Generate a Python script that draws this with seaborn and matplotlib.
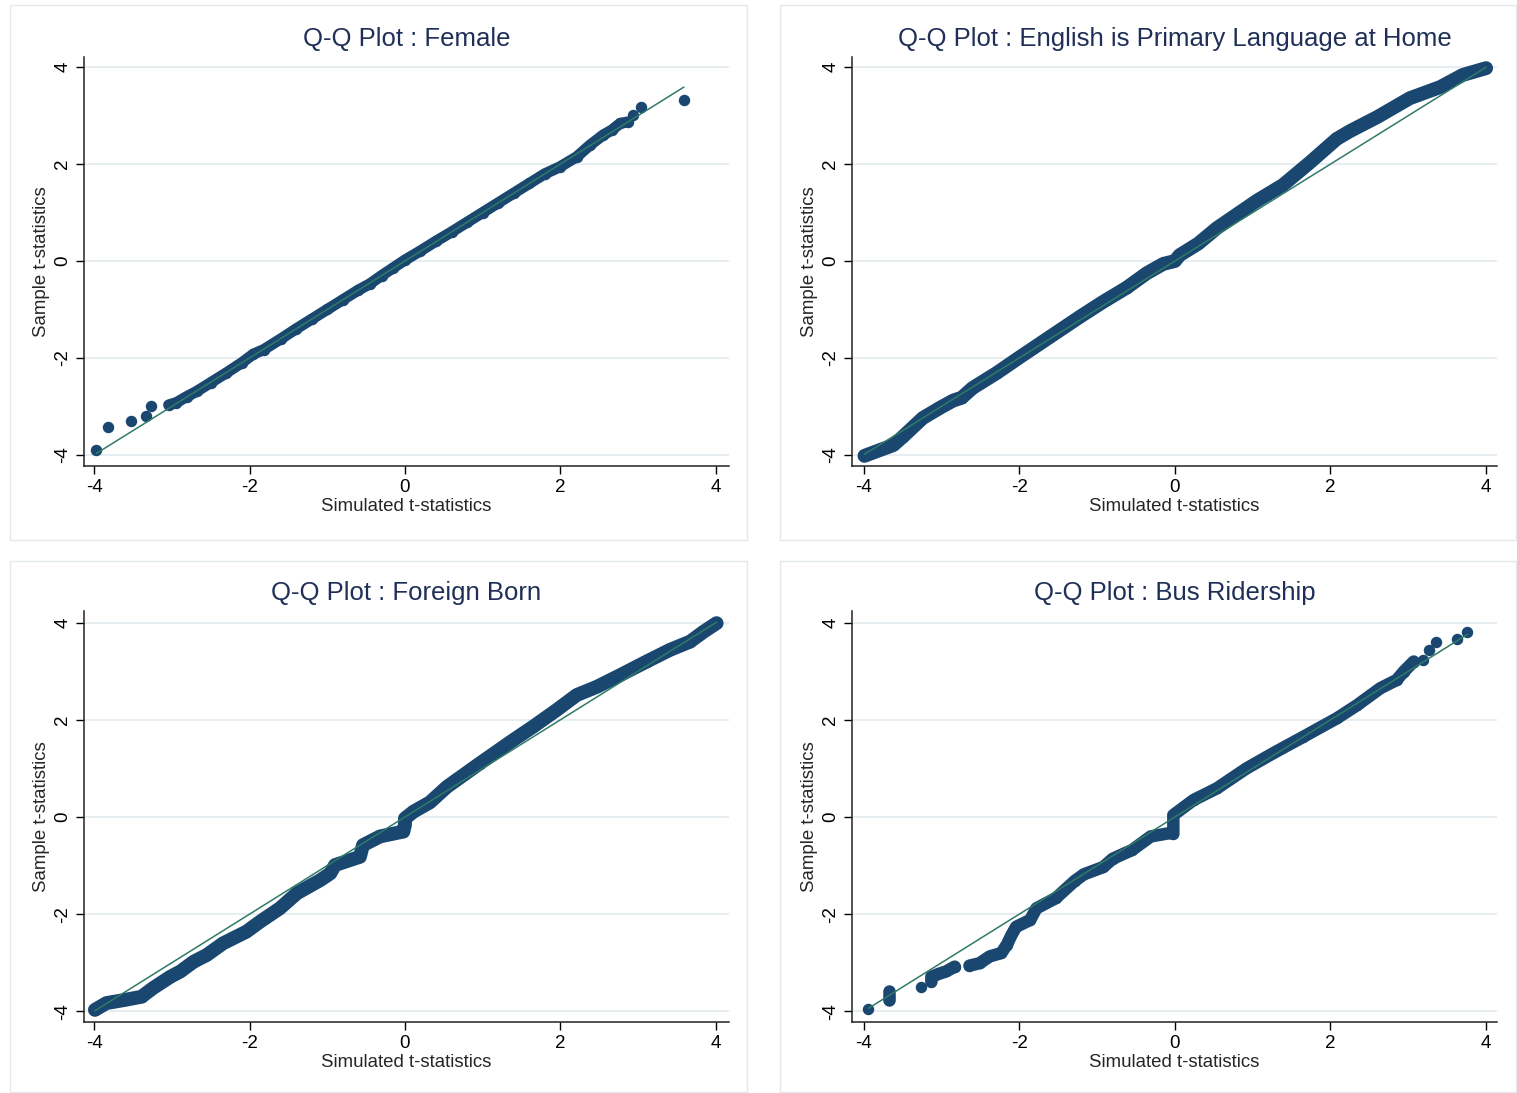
"""
Q-Q plots of sample vs simulated t-statistics (four covariates).
"""
import matplotlib
matplotlib.use("Agg")
import matplotlib.pyplot as plt
from matplotlib.patches import Rectangle
import pandas as pd
import seaborn as sns

sns.set_style("ticks")
plt.rcParams["font.family"] = ["Liberation Sans", "DejaVu Sans"]
plt.rcParams["axes.unicode_minus"] = False

NAVY = "#1a476f"
FIT = "#2f7a68"
GRID = "#e6eef2"
TITLE_C = "#1f2f57"
FRAME = "#e2eaee"

W, H = 1517, 1093

# ---------------------------------------------------------------------------
# data: (simulated, sample) quantile pairs + segment id
# ---------------------------------------------------------------------------
female_x = [-3.97, -3.82, -3.53, -3.33, -3.27,
            -3.04, -2.94, -2.81, -2.68, -2.50, -2.30, -2.10, -1.95, -1.82, -1.60,
            -1.40, -1.20, -1.00, -0.80, -0.60, -0.45, -0.30, -0.15, 0.00, 0.20,
            0.40, 0.60, 0.80, 1.00, 1.20, 1.40, 1.60, 1.80, 1.99, 2.21, 2.38,
            2.55, 2.66, 2.77, 2.87,
            2.94, 3.04, 3.59]
female_y = [-3.90, -3.42, -3.30, -3.20, -3.00,
            -2.97, -2.92, -2.80, -2.69, -2.51, -2.31, -2.10, -1.92, -1.83, -1.61,
            -1.40, -1.20, -1.00, -0.80, -0.60, -0.47, -0.30, -0.14, 0.02, 0.21,
            0.41, 0.60, 0.80, 1.00, 1.20, 1.40, 1.60, 1.80, 1.94, 2.15, 2.39,
            2.60, 2.70, 2.84, 2.87,
            3.01, 3.18, 3.33]
female_seg = [0, 1, 2, 3, 4] + [5] * 35 + [6, 7, 8]

english_x = [-3.99, -3.79, -3.62, -3.50, -3.24, -3.02, -2.85, -2.74, -2.60,
             -2.29, -1.99, -1.61, -1.22, -0.93, -0.62, -0.36, -0.15, 0.00,
             0.06, 0.30, 0.54, 1.05, 1.39, 1.74, 2.08, 2.25, 2.60, 3.02, 3.41,
             3.70, 4.00]
english_y = [-4.02, -3.90, -3.80, -3.63, -3.24, -3.03, -2.88, -2.82, -2.62,
             -2.31, -1.98, -1.57, -1.15, -0.85, -0.55, -0.25, -0.06, 0.00,
             0.12, 0.36, 0.68, 1.24, 1.57, 2.04, 2.52, 2.68, 2.97, 3.36, 3.59,
             3.84, 3.98]
english_seg = [0] * 31

foreign_x = [-3.99, -3.84, -3.62, -3.39, -3.24, -3.02, -2.89, -2.72, -2.55,
             -2.34, -2.04, -1.86, -1.61, -1.39, -1.09, -0.96, -0.90, -0.58,
             -0.54, -0.32, -0.02, 0.00, 0.00, 0.11, 0.32, 0.54, 0.96, 1.39,
             1.65, 1.95, 2.21, 2.47, 2.77, 3.11, 3.41, 3.67, 3.84, 4.01]
foreign_y = [-3.97, -3.83, -3.77, -3.70, -3.52, -3.29, -3.18, -2.98, -2.84,
             -2.60, -2.36, -2.15, -1.88, -1.57, -1.30, -1.16, -0.99, -0.82,
             -0.58, -0.40, -0.30, -0.16, -0.03, 0.11, 0.30, 0.62, 1.10, 1.58,
             1.86, 2.20, 2.51, 2.68, 2.92, 3.20, 3.44, 3.61, 3.81, 3.99]
foreign_seg = [0] * 38

bus_x = [-3.94,
         -3.67, -3.67, -3.67,
         -3.26,
         -3.13, -3.13, -3.02, -2.94, -2.83,
         -2.64, -2.51, -2.38, -2.23, -2.16, -2.10, -2.04, -1.86, -1.78, -1.53,
         -1.29, -1.17, -0.92, -0.80, -0.55, -0.31, -0.06, -0.02, -0.02, 0.24,
         0.54, 0.92, 1.26, 1.65, 2.08, 2.34, 2.64, 2.85, 2.94, 3.07,
         3.19, 3.27, 3.35, 3.62, 3.76]
bus_y = [-3.96,
         -3.77, -3.68, -3.59,
         -3.50,
         -3.39, -3.29, -3.22, -3.18, -3.08,
         -3.06, -3.01, -2.87, -2.80, -2.63, -2.43, -2.26, -2.12, -1.88, -1.67,
         -1.32, -1.18, -1.03, -0.86, -0.68, -0.40, -0.33, -0.34, 0.04, 0.35,
         0.59, 1.00, 1.31, 1.65, 2.03, 2.30, 2.65, 2.82, 2.99, 3.20,
         3.24, 3.44, 3.60, 3.66, 3.80]
bus_seg = [0, 1, 1, 1, 2] + [3] * 5 + [4] * 30 + [5, 6, 7, 8, 9]

TICKS = [-4, -2, 0, 2, 4]


def draw_panel(ax, title, xs, ys, seg, lw, xlim, ylim):
    df = pd.DataFrame({"x": xs, "y": ys, "seg": seg})
    # dense runs of markers -> thick rounded line through the read points
    sns.lineplot(data=df, x="x", y="y", units="seg", estimator=None, sort=False,
                 color=NAVY, linewidth=lw, solid_capstyle="round",
                 solid_joinstyle="round", ax=ax, legend=False, zorder=2)
    sns.scatterplot(data=df, x="x", y="y", color=NAVY, s=68, linewidth=0,
                    ax=ax, legend=False, zorder=3)
    lo, hi = min(xs), max(xs)
    sns.lineplot(x=[lo, hi], y=[lo, hi], color=FIT, linewidth=1.1, ax=ax,
                 zorder=4)

    ax.set_xlim(*xlim)
    ax.set_ylim(*ylim)
    ax.set_xticks(TICKS)
    ax.set_xticklabels([str(t) for t in TICKS])
    ax.set_yticks(TICKS)
    ax.set_yticklabels([str(t) for t in TICKS], rotation=90, va="center")
    ax.tick_params(axis="both", direction="out", length=6, width=1,
                   labelsize=13.5, pad=3, colors="black")
    ax.grid(axis="y", color=GRID, linewidth=1.4)
    ax.set_axisbelow(True)
    sns.despine(ax=ax)
    for s in ("left", "bottom"):
        ax.spines[s].set_color("#222222")
        ax.spines[s].set_linewidth(1.1)
    ax.set_xlabel("Simulated t-statistics", fontsize=13.4, labelpad=2)
    ax.set_ylabel("Sample t-statistics", fontsize=13.4, labelpad=3)
    ax.set_title(title, fontsize=18.5, color=TITLE_C, pad=8)


fig = plt.figure(figsize=(W / 100, H / 100), dpi=100)
fig.patch.set_facecolor("white")

# panel frames (pixel boxes)
for (x0, y0, x1, y1) in [(10, 5, 747, 540), (780, 5, 1516, 540),
                         (10, 561, 747, 1092), (780, 561, 1516, 1092)]:
    fig.add_artist(Rectangle((x0 / W, 1 - y1 / H), (x1 - x0) / W, (y1 - y0) / H,
                             transform=fig.transFigure, fill=False,
                             edgecolor=FRAME, linewidth=1.0))

axes_px = [(84, 57, 729, 466), (852, 57, 1497, 466),
           (84, 611, 729, 1022), (852, 611, 1497, 1022)]
panels = [
    ("Q-Q Plot : Female", female_x, female_y, female_seg, 8,
     (-4.13, 4.17), (-4.23, 4.21)),
    ("Q-Q Plot : English is Primary Language at Home", english_x, english_y,
     english_seg, 10, (-4.15, 4.14), (-4.23, 4.21)),
    ("Q-Q Plot : Foreign Born", foreign_x, foreign_y, foreign_seg, 10,
     (-4.13, 4.17), (-4.22, 4.24)),
    ("Q-Q Plot : Bus Ridership", bus_x, bus_y, bus_seg, 9,
     (-4.15, 4.14), (-4.22, 4.24)),
]

for (x0, y0, x1, y1), (title, xs, ys, seg, lw, xl, yl) in zip(axes_px, panels):
    ax = fig.add_axes([x0 / W, 1 - y1 / H, (x1 - x0) / W, (y1 - y0) / H])
    draw_panel(ax, title, xs, ys, seg, lw, xl, yl)

fig.savefig("out.png", dpi=100, facecolor="white")
plt.close(fig)
